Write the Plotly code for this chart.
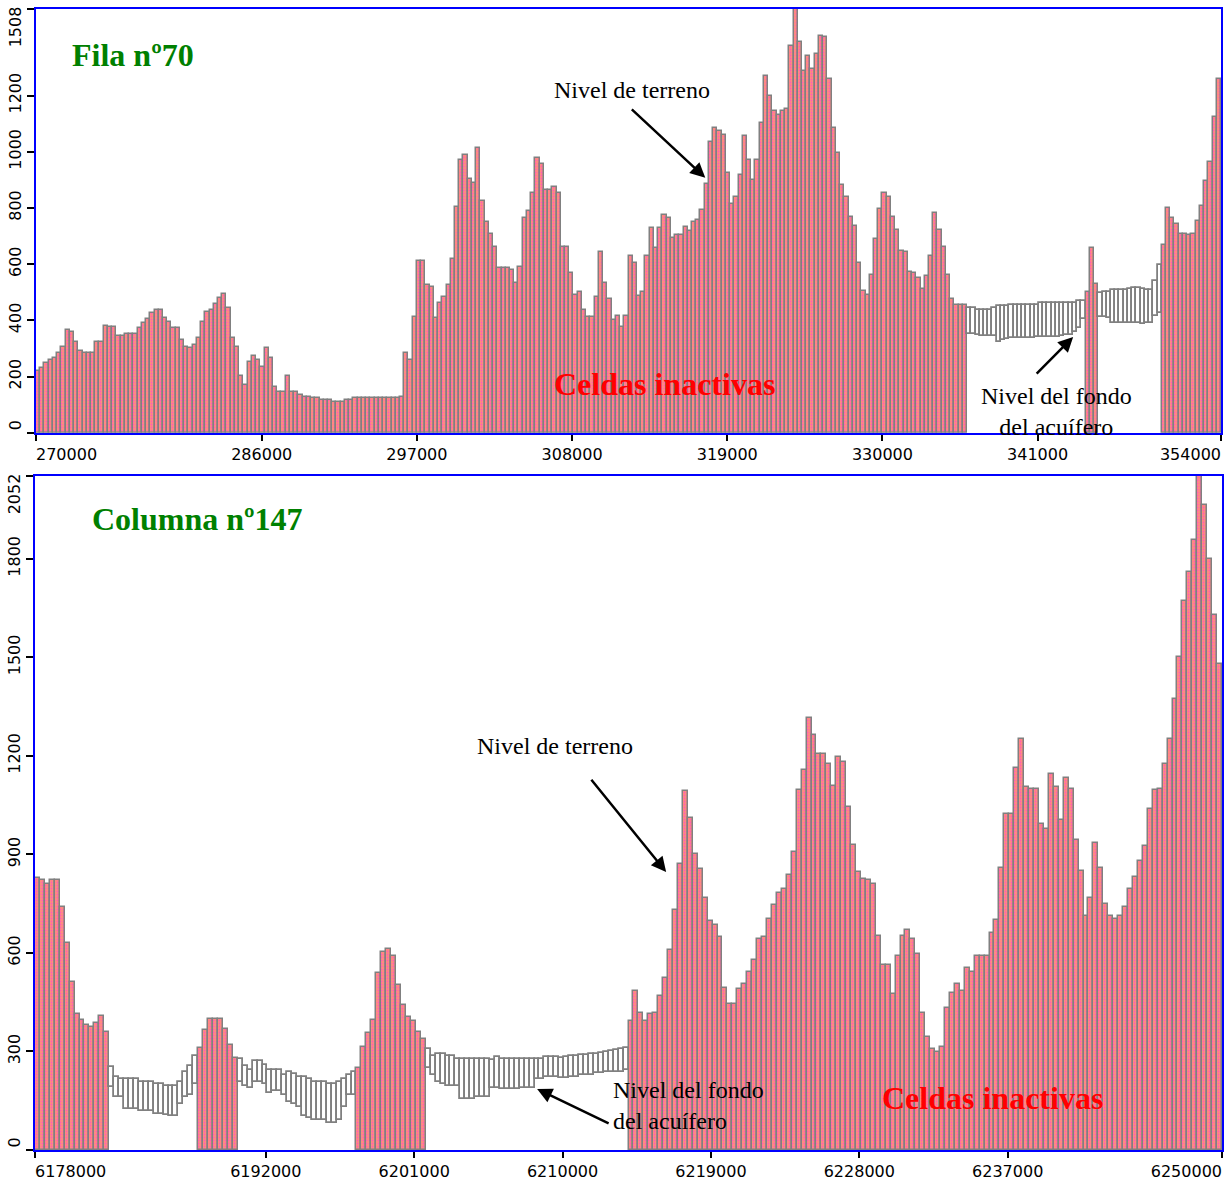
import plotly.graph_objects as go

W, H = 1225, 1179
OFF = 0

# ---------------- Fila nº70 (cells of 300 m from 270000) ----------------
fila_x0 = 270000
fila_celda = 300
fila_cota = [
    219, 231, 249, 259, 266, 283, 306, 366, 360, 322,
    291, 283, 283, 283, 324, 324, 381, 376, 376, 345,
    345, 351, 351, 351, 372, 390, 404, 427, 437, 437,
    408, 395, 372, 372, 330, 306, 301, 312, 338, 395,
    431, 437, 458, 479, 494, 443, 337, 306, 202, 170,
    253, 273, 259, 235, 303, 265, 164, 146, 146, 203,
    145, 145,
    134, 128, 128, 125, 122, 116, 116, 117, 110, 110,
    110, 116, 118, 122, 122, 122, 122, 125, 125, 125,
    122, 122, 122, 125, 128, 283, 260, 413, 611, 611,
    526, 520, 407, 463, 484, 526, 617, 805, 971, 989,
    903, 890, 1015, 825, 751, 707, 660, 585, 585, 585,
    579, 532, 591, 763, 790, 853, 979, 956, 864, 864,
    876, 853, 662, 662, 568, 490, 502, 437, 413, 413,
    484, 642,
    534, 475, 401, 416, 377, 416, 629, 603, 487, 502,
    629, 730, 657, 730, 775, 763, 692, 704, 704, 731,
    719, 751, 757, 793, 884, 1036, 1086, 1074, 1060, 925,
    813, 840, 918, 1057, 971, 900, 971, 1102, 1270, 1199,
    1146, 1131, 1146, 1152, 1375, 1508, 1389, 1286, 1341, 1294,
    1348, 1413, 1410, 1259, 1084, 997, 882, 840, 769, 736,
    603, 506, 490, 562, 689, 796, 853, 840, 769, 722,
    645, 644, 573, 570, 550,
    511, 556, 629, 783, 722, 662, 561, 476, 455, 455, 455,
    443, 443, 437, 437, 437, 437, 443, 451, 452, 452,
    455, 455, 455, 455, 455, 455, 455, 463, 463, 463,
    463, 463, 463, 463, 463, 463, 470, 470,
    502, 657, 528,
    496, 500, 502, 508, 508, 508, 508, 510, 516, 516,
    510, 508, 508, 540, 597,
    668, 801, 763, 742, 708, 708, 702, 708, 752, 807,
    896, 962, 1125, 1259,
]
# aquifer bottom of the active cells (None = inactive cell, drawn full)
fila_fondo = (
    [None] * 220
    + [350, 350, 346, 344, 344, 344, 344, 324, 330, 332,
       336, 336, 336, 336, 336, 336, 340, 340, 340, 340,
       340, 342, 344, 346, 348, 360, 372, 404]
    + [None] * 3
    + [412, 412, 410, 390, 390, 390, 390, 390, 392, 390,
       388, 390, 392, 416, 425]
    + [None] * 14
)
fila_ticks = [270000, 286000, 297000, 308000, 319000, 330000, 341000, 354000]
fila_yticks = [0, 200, 400, 600, 800, 1000, 1200, 1508]

# ---------------- Columna nº147 (cells of 300 m from 6178000) ----------------
col_x0 = 6178000
col_celda = 300
col_cota = [
    827, 823, 809, 823, 823, 739, 631, 513, 415, 397, 380, 373, 386, 408, 359,
    254, 222, 215, 215, 215, 215, 208, 208, 208, 201,
    201, 194, 194, 194, 208, 236, 257, 285,
    310, 365, 400, 400, 400, 369, 320, 281,
    278, 257, 243, 271, 271, 259, 243, 243, 243, 229,
    236, 232, 222, 222, 215, 208, 208, 208, 201, 201,
    208, 215, 229, 236,
    250, 315, 355, 397, 539, 604, 613, 592, 502, 441, 404, 394, 360, 338,
    309, 285, 292, 292, 285, 285, 278, 278, 278, 278,
    278, 278, 278, 274, 283, 278, 278, 278, 278, 278,
    278, 278, 278, 278, 283, 283, 283,
    279, 282, 285, 285, 288, 288, 292, 292, 296, 299, 302, 304, 306, 311,
    394, 483, 418, 394, 414, 418, 469, 525, 609, 732,
    872, 1092, 1011, 900, 855, 767, 697, 686, 648, 492,
    443, 443, 490, 505, 543, 578, 641, 648, 704, 746,
    781, 795, 837, 907, 1095, 1158, 1316, 1263, 1207, 1207,
    1175, 1109, 1196, 1182, 1043, 930, 846, 826, 823, 809,
    652, 562, 562, 474, 592, 652, 669, 641, 596, 418,
    344, 309, 299,
    313, 432, 478, 506, 485, 553, 543, 592, 590, 592,
    662, 701, 858, 1022, 1022, 1162, 1251, 1106, 1098, 1098,
    994, 976, 1144, 1106, 1004, 1133, 1098, 944, 848, 711,
    767, 934, 858, 750, 711, 704, 711, 739, 795, 830,
    879, 927, 1039, 1095, 1098, 1176, 1251, 1372, 1500, 1670,
    1760, 1856, 2052, 1965, 1800, 1628, 1479,
]
col_fondo = (
    [None] * 15
    + [192, 160, 160, 125, 125, 125, 118, 118, 118, 111,
       111, 108, 104, 104, 139, 160, 167, 201]
    + [None] * 8
    + [208, 194, 188, 208, 208, 201, 174, 181, 181, 167,
       146, 139, 132, 104, 97, 90, 90, 90, 83, 83,
       90, 132, 167, 167]
    + [None] * 14
    + [250, 229, 208, 201, 194, 194, 194, 155, 155, 155,
       160, 160, 160, 188, 188, 185, 185, 185, 185, 188,
       188, 188, 215, 215, 222, 222, 222,
       218, 218, 221, 221, 228, 228, 228, 233, 233, 238, 238, 238, 238, 243]
    + [None] * 120
)
col_ticks = [6178000, 6192000, 6201000, 6210000, 6219000, 6228000, 6237000, 6250000]
col_yticks = [0, 300, 600, 900, 1200, 1500, 1800, 2052]

GREY = "#808080"
PINK = dict(color="#f88488",
            pattern=dict(shape=".", fgcolor="#ff30f0", bgcolor="#ff8c7c",
                         size=3, solidity=0.3),
            line=dict(color=GREY, width=1.5))
HOLLOW = dict(color="rgba(255,255,255,0)", line=dict(color=GREY, width=1.8))

fig = go.Figure()


def add_panel(x0, celda, cota, fondo, xa, ya):
    xs_in, ys_in, xs_ac, base_ac, h_ac = [], [], [], [], []
    for i, (c, f) in enumerate(zip(cota, fondo)):
        xc = x0 + celda * i + celda / 2
        if f is None:
            xs_in.append(xc)
            ys_in.append(c)
        else:
            xs_ac.append(xc)
            base_ac.append(f)
            h_ac.append(c - f)
    fig.add_trace(go.Bar(x=xs_in, y=ys_in, width=celda, marker=PINK,
                         xaxis=xa, yaxis=ya, showlegend=False))
    fig.add_trace(go.Bar(x=xs_ac, y=h_ac, base=base_ac, width=celda,
                         marker=HOLLOW, xaxis=xa, yaxis=ya, showlegend=False))


add_panel(fila_x0, fila_celda, fila_cota, fila_fondo, "x", "y")
add_panel(col_x0, col_celda, col_cota, col_fondo, "x2", "y2")

FS = "\u2007"


def xtext(vals):
    t = [str(v) for v in vals]
    t[0] = FS * len(t[0]) + t[0]
    t[-1] = t[-1] + FS * len(t[-1])
    return t


def ytext(vals):
    t = [str(v) for v in vals]
    t[0] = FS + t[0]
    t[-1] = t[-1] + FS * len(t[-1])
    return t


def xdom(a, b):
    return [(a - OFF) / W, (b - OFF) / W]


def ydom(top, bottom):
    return [1 - (bottom - OFF) / H, 1 - (top - OFF) / H]


tickfont = dict(family="DejaVu Sans", size=16, color="black")
axis_common = dict(showgrid=False, zeroline=False, showline=True, mirror=True,
                   linecolor="#0000ff", linewidth=2, ticks="outside",
                   tickcolor="black", tickwidth=1.5, tickfont=tickfont,
                   ticklabeloverflow="allow", automargin=False,
                   fixedrange=True)

fig.update_layout(
    width=W, height=H, margin=dict(l=0, r=0, t=0, b=0, pad=0, autoexpand=False),
    paper_bgcolor="white", plot_bgcolor="white",
    barmode="overlay", bargap=0, showlegend=False,
    xaxis=dict(domain=xdom(36, 1221), range=[270000, 354000],
               tickvals=fila_ticks, ticktext=xtext(fila_ticks), ticklen=6,
               anchor="y", **axis_common),
    yaxis=dict(domain=ydom(9, 432.7), range=[0, 1508],
               tickvals=fila_yticks, ticktext=ytext(fila_yticks), ticklen=7,
               tickangle=-90, anchor="x", **axis_common),
    xaxis2=dict(domain=xdom(35, 1222), range=[6178000, 6250000],
                tickvals=col_ticks, ticktext=xtext(col_ticks), ticklen=6,
                anchor="y2", **axis_common),
    yaxis2=dict(domain=ydom(476, 1150), range=[0, 2052],
                tickvals=col_yticks, ticktext=ytext(col_yticks), ticklen=7,
                tickangle=-90, anchor="x2", **axis_common),
)

SERIF = "Liberation Serif"
titlefont = dict(family=SERIF, size=32, color="#008000")
redfont = dict(family=SERIF, size=32, color="#ff0000")
notefont = dict(family=SERIF, size=24, color="black")

ann = [
    # top panel
    dict(xref="x", yref="y", x=272445, y=1345, text="<b>Fila nº70</b>",
         xanchor="left", yanchor="middle", font=titlefont),
    dict(xref="x", yref="y", x=312269, y=1220, text="Nivel de terreno",
         xanchor="center", yanchor="middle", font=notefont),
    dict(xref="x", yref="y", x=314537, y=173, text="<b>Celdas inactivas</b>",
         xanchor="center", yanchor="middle", font=redfont),
    dict(xref="x", yref="y", x=342314, y=75,
         text="Nivel del fondo<br>del acuífero",
         xanchor="center", yanchor="middle", font=notefont),
    # bottom panel
    dict(xref="x2", yref="y2", x=6181337, y=1921, text="<b>Columna nº147</b>",
         xanchor="left", yanchor="middle", font=titlefont),
    dict(xref="x2", yref="y2", x=6209519, y=1230, text="Nivel de terreno",
         xanchor="center", yanchor="middle", font=notefont),
    dict(xref="x2", yref="y2", x=6212947, y=134,
         text="Nivel del fondo<br>del acuífero", align="left",
         xanchor="left", yanchor="middle", font=notefont),
    dict(xref="x2", yref="y2", x=6236094, y=158, text="<b>Celdas inactivas</b>",
         xanchor="center", yanchor="middle", font=redfont),
]
for a in ann:
    a["showarrow"] = False
arrows = [
    ("x", "y", 317442, 907, 312128, 1156),
    ("x", "y", 343519, 341, 340827, 205),
    ("x2", "y2", 6216284, 846, 6211673, 1132),
    ("x2", "y2", 6208458, 186, 6212886, 79),
]
for xr, yr, hx, hy, tx, ty in arrows:
    ann.append(dict(xref=xr, yref=yr, axref=xr, ayref=yr, x=hx, y=hy,
                    ax=tx, ay=ty, text="", showarrow=True, arrowhead=2,
                    arrowsize=1.2, arrowwidth=2.5, arrowcolor="black"))
fig.update_layout(annotations=ann)

fig.write_html(
    "out.html",
    config={"displayModeBar": False},
    post_script="document.body.style.margin='0';"
                "document.body.style.overflow='hidden';",
)
